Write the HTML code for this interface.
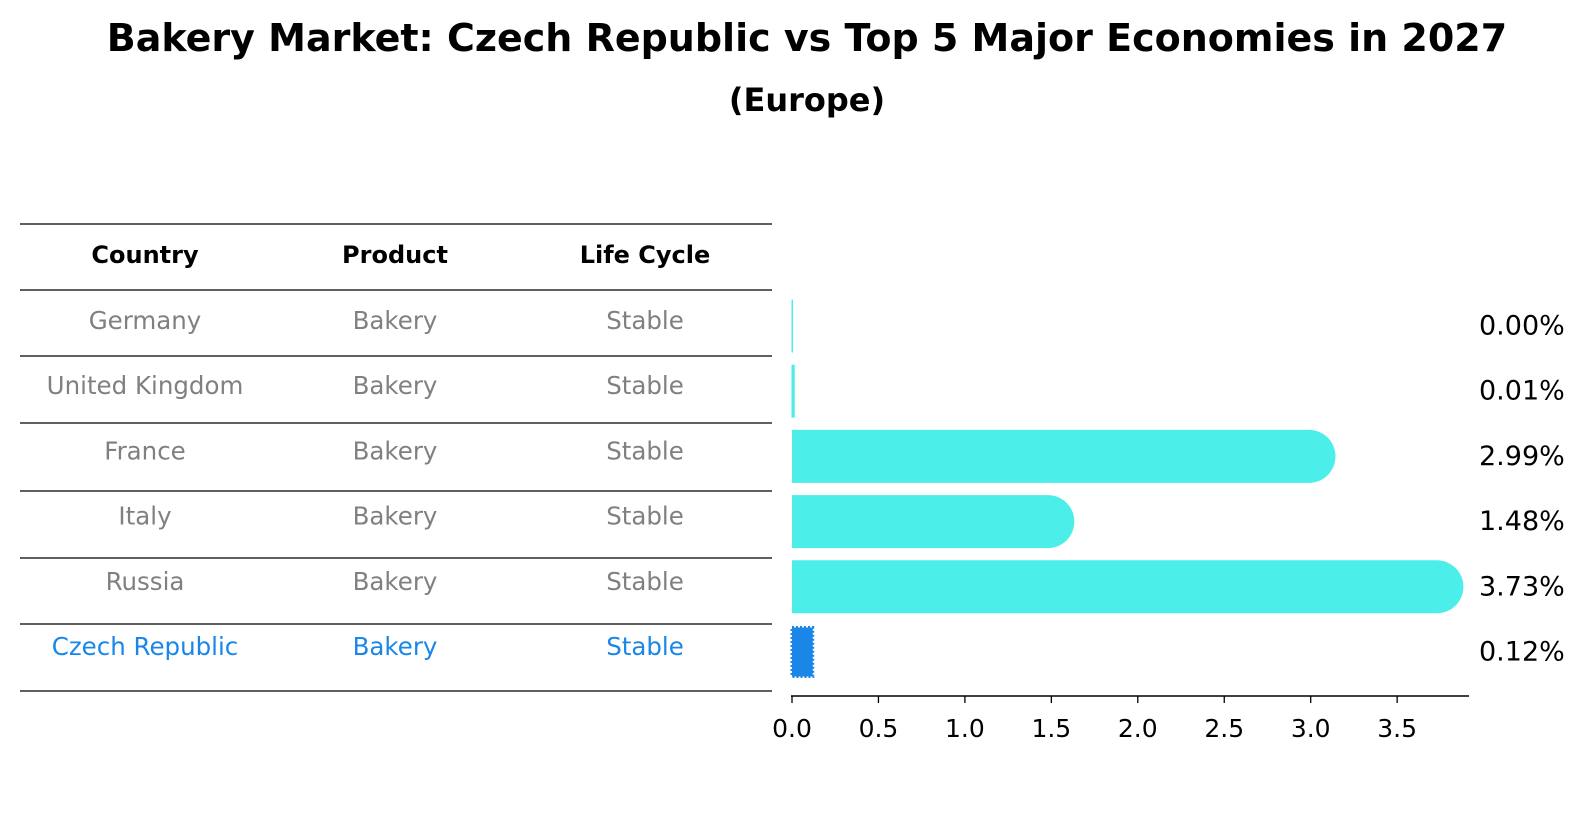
<!DOCTYPE html>
<html><head><meta charset="utf-8"><style>
body{margin:0;background:#fff;width:1586px;height:823px;overflow:hidden;font-family:"DejaVu Sans","Liberation Sans",sans-serif}
</style></head><body>
<svg width="1586" height="823" xmlns="http://www.w3.org/2000/svg" font-family="DejaVu Sans, Liberation Sans, sans-serif">
<text x="807" y="51" text-anchor="middle" font-size="38" font-weight="bold">Bakery Market: Czech Republic vs Top 5 Major Economies in 2027</text>
<text x="807" y="111" text-anchor="middle" font-size="32" font-weight="bold">(Europe)</text>
<g id="table"></g>
<g id="bars"></g>
<g id="axis"></g>
</svg>
<script>
const countries=["Germany","United Kingdom","France","Italy","Russia","Czech Republic"];
const products=["Bakery","Bakery","Bakery","Bakery","Bakery","Bakery"];
const lifecycle=["Stable","Stable","Stable","Stable","Stable","Stable"];
const values=[0.00,0.01,2.99,1.48,3.73,0.12];
const valueLabels=["0.00%","0.01%","2.99%","1.48%","3.73%","0.12%"];
const ticks=[0,0.5,1.0,1.5,2.0,2.5,3.0,3.5];
const tickLabels=["0.0","0.5","1.0","1.5","2.0","2.5","3.0","3.5"];

const NS="http://www.w3.org/2000/svg";
function mk(t,a,p){const e=document.createElementNS(NS,t);for(const k in a)e.setAttribute(k,a[k]);p.appendChild(e);return e;}
const x0=792,ppu=172.9;
const xs=v=>x0+v*ppu;
const rowY=i=>326+i*65.2;
const tbl=document.getElementById('table');
const lineYs=[224,290,356,423,491,558,624,691];
lineYs.forEach((y,i)=>{const l=mk('line',{x1:20,x2:772,y1:y,y2:y,stroke:'#000','stroke-width':1.2},tbl);

});
const colX=[145,395,645];
["Country","Product","Life Cycle"].forEach((h,j)=>{const t=mk('text',{x:colX[j],y:256,'text-anchor':'middle','font-size':24,'font-weight':'bold','dominant-baseline':'middle'},tbl);t.textContent=h;

});
countries.forEach((c,i)=>{const col=i===countries.length-1?'#1a87e8':'#808080';
[c,products[i],lifecycle[i]].forEach((s,j)=>{const t=mk('text',{x:colX[j],y:rowY(i)-4,'text-anchor':'middle','font-size':24.5,fill:col,'dominant-baseline':'middle'},tbl);t.textContent=s;

});});
const bars=document.getElementById('bars');
const h=53,r=26.5;
values.forEach((v,i)=>{const cy=rowY(i);let el;
if(i===values.length-1){el=mk('rect',{x:x0,y:cy-h/2+2,width:Math.max(1,xs(v)-x0),height:h-4,fill:'#1a87e8',stroke:'#1a87e8','stroke-width':3,'stroke-dasharray':'2 2'},bars);}
else if(v<0.05){el=mk('rect',{x:x0-0.5,y:cy-h/2,width:1.5+v*ppu,height:h,fill:'#4beee9'},bars);}
else{const xe=xs(v);el=mk('path',{d:`M${x0},${cy-h/2} L${xe},${cy-h/2} A${r},${r} 0 0 1 ${xe},${cy+h/2} L${x0},${cy+h/2} Z`,fill:'#4beee9'},bars);}


const t=mk('text',{x:1479,y:cy+1,'font-size':27,'dominant-baseline':'middle'},bars);t.textContent=valueLabels[i];

});
const ax=document.getElementById('axis');
const al=mk('line',{x1:x0-1,x2:1469,y1:696,y2:696,stroke:'#000','stroke-width':1.5},ax);


ticks.forEach((v,i)=>{const tk=mk('line',{x1:xs(v),x2:xs(v),y1:696,y2:703,stroke:'#000','stroke-width':1.3},ax);


const t=mk('text',{x:xs(v),y:737,'text-anchor':'middle','font-size':25},ax);t.textContent=tickLabels[i];

});
</script>
</body></html>
